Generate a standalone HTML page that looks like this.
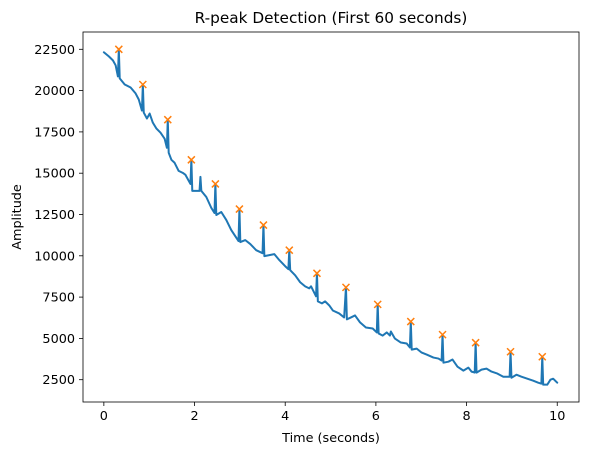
<!DOCTYPE html>
<html><head><meta charset="utf-8"><style>
body{margin:0;background:#fff;}
svg text{font-family:"DejaVu Sans","Liberation Sans",sans-serif;fill:#000;}
</style></head><body>
<svg id="chart" width="589" height="455" viewBox="0 0 589 455" xmlns="http://www.w3.org/2000/svg">
<rect x="0" y="0" width="589" height="455" fill="#fff"/>
<text x="331" y="23" font-size="15.3" text-anchor="middle">R-peak Detection (First 60 seconds)</text>
<text x="331" y="442" font-size="12.8" text-anchor="middle">Time (seconds)</text>
<text x="0" y="0" font-size="12.8" text-anchor="middle" transform="translate(21,217) rotate(-90)">Amplitude</text>
<g id="plot"></g>
</svg>
<script>
const times=[0,0.11,0.20,0.26,0.31,0.33,0.35,0.46,0.59,0.70,0.77,0.84,0.86,0.88,0.95,1.01,1.08,1.16,1.25,1.34,1.39,1.41,1.43,1.49,1.56,1.65,1.74,1.80,1.91,1.93,1.95,2.04,2.11,2.13,2.15,2.26,2.37,2.44,2.46,2.48,2.59,2.70,2.81,2.97,2.99,3.01,3.12,3.23,3.36,3.50,3.52,3.54,3.65,3.76,3.87,4.00,4.07,4.09,4.11,4.22,4.33,4.44,4.53,4.57,4.68,4.70,4.72,4.81,4.88,4.97,5.05,5.19,5.30,5.34,5.36,5.45,5.54,5.65,5.78,5.93,6.02,6.04,6.06,6.15,6.24,6.31,6.33,6.42,6.55,6.68,6.75,6.77,6.79,6.90,7.01,7.12,7.27,7.38,7.45,7.47,7.49,7.60,7.69,7.80,7.93,8.04,8.11,8.18,8.20,8.22,8.33,8.44,8.55,8.68,8.81,8.95,8.97,8.99,9.10,9.21,9.34,9.47,9.58,9.65,9.67,9.69,9.78,9.85,9.91,10.0];
const amplitudes=[22320,22070,21830,21530,20860,22500,20740,20370,20190,19830,19460,18790,20370,18670,18310,18610,18060,17700,17450,17090,16540,18240,16240,15810,15630,15140,15020,14900,14350,15810,13930,13930,13930,14780,13930,13560,12900,12590,14350,12470,12650,12170,11560,10890,12830,10830,10950,10710,10340,10160,11860,9980,10040,10100,9740,9370,9190,10340,9130,8820,8400,8150,8030,8150,7550,8940,7240,7120,7240,7000,6690,6510,6270,8090,6150,6270,6390,5970,5660,5600,5360,7060,5300,5170,5360,5170,5420,4990,4750,4690,4450,6020,4320,4380,4140,4020,3840,3780,3660,5230,3530,3590,3720,3290,3050,3230,2990,2930,4740,2930,3110,3170,2990,2870,2680,2680,4190,2620,2800,2680,2560,2440,2320,2260,3890,2200,2200,2500,2560,2320];
const peakTimes=[0.33,0.86,1.41,1.93,2.46,2.99,3.52,4.09,4.70,5.34,6.04,6.77,7.47,8.20,8.97,9.67];
const peakValues=[22500,20370,18240,15810,14350,12830,11860,10340,8940,8090,7060,6020,5230,4740,4190,3890];
const xTicks=[0,2,4,6,8,10];
const yTicks=[2500,5000,7500,10000,12500,15000,17500,20000,22500];

const L=83,R=579,T=32,B=402;
const xMin=-0.46,xMax=10.48;
const yOf2500=379.7,yOf22500=49.3;
function sx(t){return L+(t-xMin)/(xMax-xMin)*(R-L);}
function sy(v){return yOf2500+(v-2500)/(22500-2500)*(yOf22500-yOf2500);}
const NS="http://www.w3.org/2000/svg";
const g=document.getElementById('plot');
function mk(tag,attrs){const e=document.createElementNS(NS,tag);for(const k in attrs)e.setAttribute(k,attrs[k]);g.appendChild(e);return e;}

xTicks.forEach(t=>{
  const x=sx(t);
  const tk=mk('line',{x1:x,x2:x,y1:B,y2:B+4,stroke:'#000','stroke-width':0.8});
  
  
  const lb=mk('text',{x:x,y:B+18,'font-size':12.8,'text-anchor':'middle'});
  lb.textContent=t;
  
  
});
yTicks.forEach(v=>{
  const y=sy(v);
  const tk=mk('line',{x1:L-4,x2:L,y1:y,y2:y,stroke:'#000','stroke-width':0.8});
  
  
  const lb=mk('text',{x:L-8,y:y+4.5,'font-size':12.8,'text-anchor':'end'});
  lb.textContent=v;
  
  
});

const pts=times.map((t,i)=>sx(t).toFixed(2)+','+sy(amplitudes[i]).toFixed(2)).join(' ');
const line=mk('polyline',{points:pts,fill:'none',stroke:'#1f77b4','stroke-width':2,'stroke-linejoin':'round','stroke-linecap':'round'});



peakTimes.forEach((t,i)=>{
  const x=sx(t),y=sy(peakValues[i]),s=3.5;
  const p=mk('path',{d:`M${x-s},${y-s}L${x+s},${y+s}M${x-s},${y+s}L${x+s},${y-s}`,stroke:'#ff7f0e','stroke-width':1.5,fill:'none'});
  
  
});

const frame=mk('rect',{x:L,y:T,width:R-L,height:B-T,fill:'none',stroke:'#000','stroke-width':0.8});


</script>
</body></html>
